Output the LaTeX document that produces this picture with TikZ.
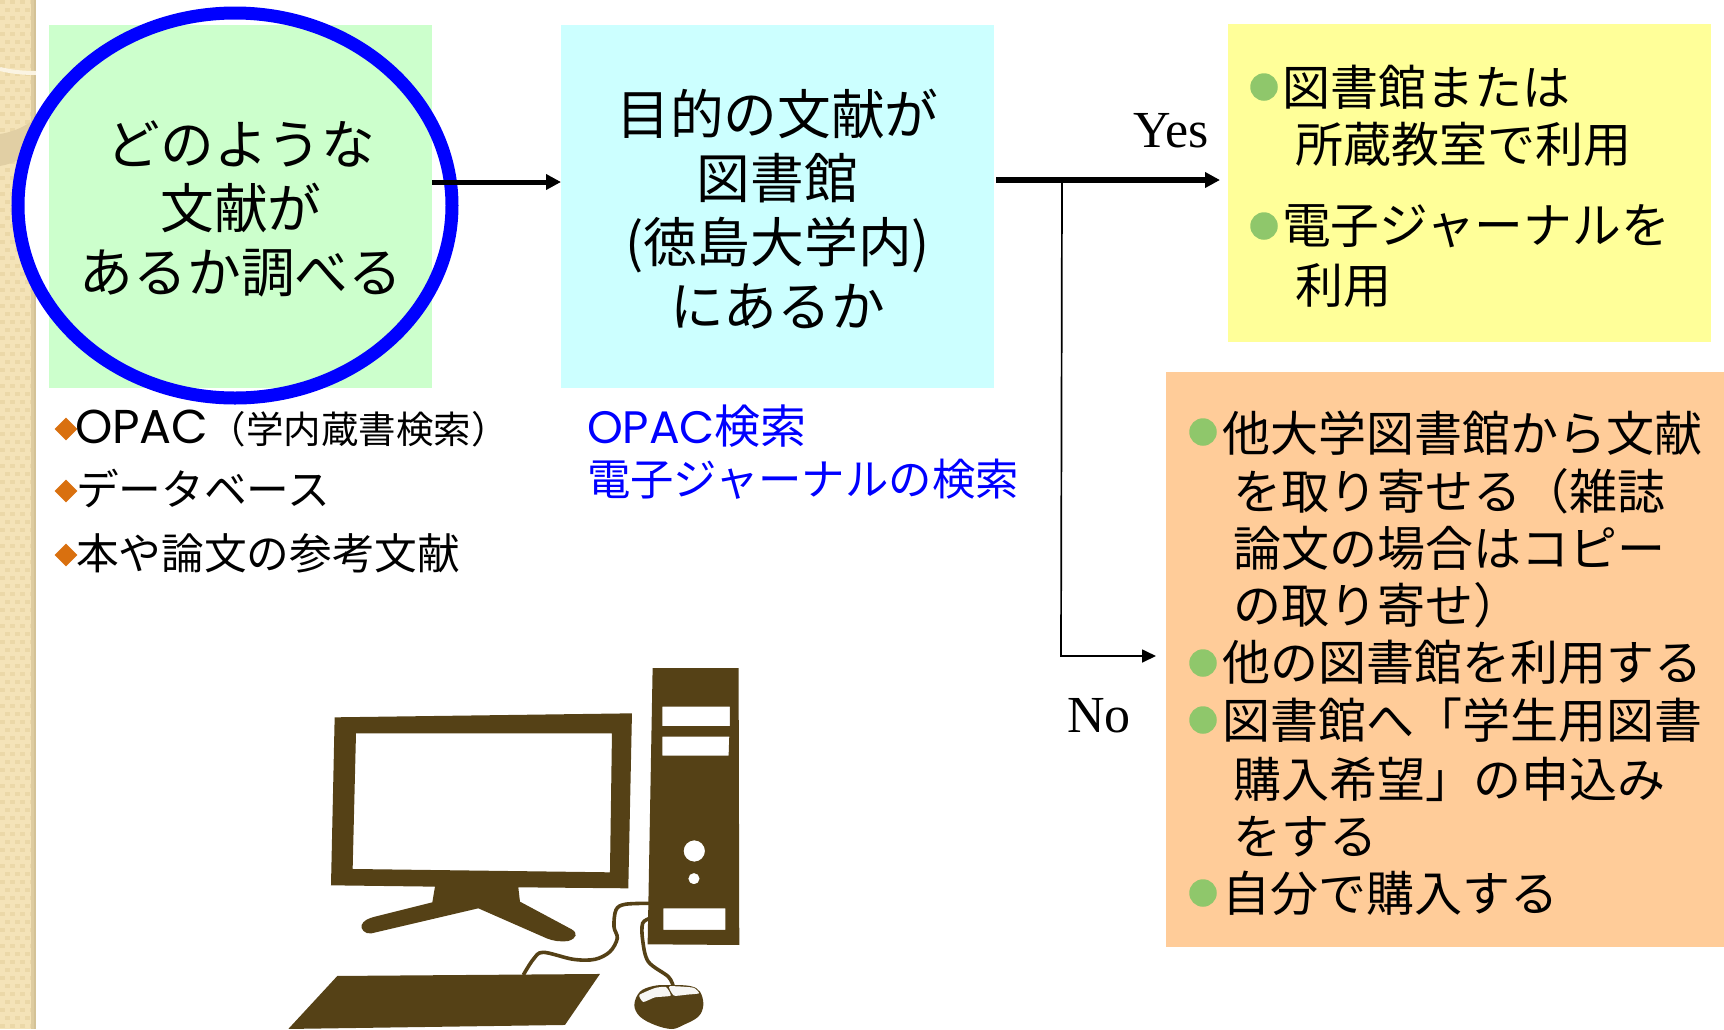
\documentclass[tikz,border=0pt]{standalone}
\usepackage{fontspec}
\setmainfont{Noto Sans CJK JP}
\newfontfamily\latinserif{Liberation Serif}
\newfontfamily\latinsans{Poppins}
\usetikzlibrary{arrows.meta,shapes.geometric}
\definecolor{boxgreen}{HTML}{CCFFCC}
\definecolor{boxcyan}{HTML}{CCFFFF}
\definecolor{boxyellow}{HTML}{FFFF99}
\definecolor{boxorange}{HTML}{FFCC99}
\definecolor{pcbrown}{HTML}{554116}
\definecolor{dotgreen}{HTML}{8FC76B}
\definecolor{dotorange}{HTML}{D9700F}
\definecolor{stripa}{HTML}{F4E3B8}
\definecolor{stripb}{HTML}{EBD8A8}
\definecolor{stripedge}{HTML}{D4C296}
\tikzset{
  panel/.style={inner sep=0pt,outer sep=0pt,align=center,text=black},
  big/.style={font=\fontsize{53.7pt}{64pt}\selectfont},
  tline/.style={anchor=west,inner sep=0pt,outer sep=0pt,text height=41pt,text depth=6pt,font=\fontsize{48pt}{50pt}\selectfont},
  sline/.style={anchor=west,inner sep=0pt,outer sep=0pt,text height=37pt,text depth=5pt,font=\fontsize{42.7pt}{50pt}\selectfont},
  gdot/.style={circle,fill=dotgreen,inner sep=0pt,minimum size=27.5pt},
  odot/.style={diamond,fill=dotorange,inner sep=0pt,minimum size=23pt},
  thickarrow/.style={line width=5pt,-{Triangle[length=15pt,width=15pt]}},
  thickerarrow/.style={line width=6pt,-{Triangle[length=15pt,width=15pt]}},
  thinarrow/.style={line width=1.7pt,-{Triangle[length=14pt,width=13pt]}},
  answer/.style={font=\latinserif\fontsize{52pt}{52pt}\selectfont,inner sep=0pt,anchor=base west}
}
\begin{document}
\begin{tikzpicture}[x=1pt,y=-1pt]
\useasboundingbox (0,0) rectangle (1724,1029);
% decorative strip
\fill[stripa] (0,0) rectangle (36,1029);
\foreach \i in {0,...,6}{\foreach \j in {0,...,128}{
  \pgfmathtruncatemacro{\k}{mod(\i+\j,2)}
  \ifnum\k=0 \fill[stripb] (\i*5,\j*8) rectangle ++(5,4); \fi
}}
\fill[stripedge!70!stripa] (31,0) rectangle (36,1029);
\fill[stripedge] (34,0) rectangle (36,1029);
\fill[stripedge!60!stripa] (0,134) .. controls (14,132) and (26,126) .. (36,118) -- (36,150) .. controls (24,158) and (12,164) .. (0,166) -- cycle;
\draw[stripa!40!white,line width=4pt] (0,69) .. controls (12,72) and (24,73) .. (36,73);
% ring interior
\node (ringfill) at (235,205.5) [shape=ellipse,fill=white,inner sep=0pt,minimum width=434pt,minimum height=385pt] {};
% boxes
\node (find) at (240.5,206.5) [panel,fill=boxgreen,minimum width=383pt,minimum height=363pt] {};
\node (ask) at (777.5,206.5) [panel,fill=boxcyan,minimum width=433pt,minimum height=363pt] {};
\node (findtext) at (241,208.5) [panel,big] {どのような\\文献が\\あるか調べる};
\node (asktext) at (777.5,209) [panel,big] {目的の文献が\\図書館\\(徳島大学内)\\にあるか};
\node (yesbox) at (1469.5,183) [panel,fill=boxyellow,minimum width=483pt,minimum height=318pt] {};
\node (nobox) at (1445,659.5) [panel,fill=boxorange,minimum width=558pt,minimum height=575pt] {};
\node (ring) at (235,205.5) [shape=ellipse,draw=blue,line width=13pt,inner sep=0pt,minimum width=434pt,minimum height=385pt] {};
% connectors
\draw[thickarrow] ([yshift=24.5pt]find.east) -- ([yshift=24.5pt]ask.west);
\coordinate (fork) at (1062,180);
\draw[thickerarrow] ([xshift=2pt,yshift=26.5pt]ask.east) -- ([xshift=-8pt,yshift=3pt]yesbox.west);
\coordinate (bend) at (1061,656);
\draw[thinarrow] (fork) -- (bend) -- ([xshift=-10pt,yshift=3.5pt]nobox.west);
\node (yes) at (1133,147) [answer] {Yes};
\node (no) at (1067,732) [answer] {No};
% left list
\node (d1) at (66,429) [odot] {};
\node (d2) at (66,491) [odot] {};
\node (d3) at (66,555) [odot] {};
\node (l1) at (75,427) [sline] {{\latinsans\fontsize{47.5pt}{50pt}\selectfont OPAC}{\fontsize{37.5pt}{50pt}\selectfont （学内蔵書検索）}};
\node (l2) at (76,489) [sline] {データベース};
\node (l3) at (76,553) [sline] {本や論文の参考文献};
% blue list
\node (b1) at (587,427) [sline,text=blue] {{\latinsans\fontsize{45.5pt}{50pt}\selectfont OPAC}\fontsize{46pt}{50pt}\selectfont 検索};
\node (b2) at (587,479) [sline,text=blue,font=\fontsize{43.4pt}{50pt}\selectfont] {電子ジャーナルの検索};
% yellow text
\node (y1d) at (1264,87) [gdot] {};
\node (y1) at (1282,88) [tline] {図書館または};
\node (y2) at (1295,145) [tline] {所蔵教室で利用};
\node (y3d) at (1264,226) [gdot] {};
\node (y3) at (1282,226) [tline,font=\fontsize{48.8pt}{50pt}\selectfont] {電子ジャーナルを};
\node (y4) at (1295,286) [tline] {利用};
% orange text
\node (o1d) at (1203,432) [gdot] {};
\node (o1) at (1222,434) [tline] {他大学図書館から文献};
\node (o2) at (1233,491.5) [tline] {を取り寄せる（雑誌};
\node (o3) at (1233,548.5) [tline] {論文の場合はコピー};
\node (o4) at (1233,606) [tline] {の取り寄せ）};
\node (o5d) at (1203,663) [gdot] {};
\node (o5) at (1222,663) [tline] {他の図書館を利用する};
\node (o6d) at (1203,720) [gdot] {};
\node (o6) at (1222,721) [tline] {図書館へ「学生用図書};
\node (o7) at (1233,779.5) [tline] {購入希望」の申込み};
\node (o8) at (1233,837) [tline] {をする};
\node (o9d) at (1203,893) [gdot] {};
\node (o9) at (1222,894) [tline] {自分で購入する};
% computer
\begin{scope}[shift={(260pt,-640pt)},x=0.3333pt,y=-0.3333pt]
\clip (-100,-100) rectangle (1500,1167);
\fill[pcbrown,even odd rule] (224,232) -- (1116,220) -- (1105,745) -- (775,742) -- (780,785) -- (935,868)
  .. controls (955,880) and (950,895) .. (925,903) .. controls (900,906) and (880,903) .. (860,895) -- (655,805) -- (335,880)
  .. controls (315,885) and (300,865) .. (305,855) .. controls (310,842) and (325,835) .. (345,830) -- (517,787) -- (525,740) -- (213,736) -- cycle
  (288,280) -- (1056,280) -- (1050,697) -- (278,687) -- cycle;
\fill[pcbrown,even odd rule] (1178,84) -- (1436,84) -- (1438,915) -- (1163,913) -- cycle
  (1207,200) -- (1410,200) -- (1410,258) -- (1207,258) -- cycle
  (1207,290) -- (1408,290) -- (1406,347) -- (1207,347) -- cycle
  (1210,805) -- (1396,805) -- (1396,870) -- (1210,870) -- cycle
  (1303,633) circle (32) (1302,716) circle (17);
\fill[pcbrown] (232,1008) -- (1020,1002) -- (915,1155) -- (85,1167) -- cycle;
\draw[pcbrown,line width=3.6pt] plot[smooth,tension=.55] coordinates {(1170,790) (1095,793) (1068,810) (1062,860) (1072,895) (1050,935) (1005,958) (940,958) (850,937) (820,958) (790,1005)};
\draw[pcbrown,line width=3.6pt] plot[smooth,tension=.55] coordinates {(1170,835) (1148,850) (1148,900) (1165,965) (1225,1010) (1240,1040)};
\end{scope}
\begin{scope}[shift={(600pt,-880pt)},x=0.3333pt,y=-0.3333pt]
\clip (0,0) rectangle (480,447);
\fill[pcbrown] plot[smooth cycle,tension=.6] coordinates {(120,335) (160,318) (205,315) (270,318) (300,335) (310,375) (295,410) (250,435) (215,447) (165,435) (120,410) (103,375)};
\fill[white!95!pcbrown] plot[smooth cycle,tension=.3] coordinates {(118,345) (165,324) (198,321) (212,347) (165,352) (130,366)};
\fill[white!95!pcbrown] plot[smooth cycle,tension=.3] coordinates {(208,319) (280,323) (297,340) (260,344) (222,347)};
\end{scope}
\end{tikzpicture}
\end{document}
